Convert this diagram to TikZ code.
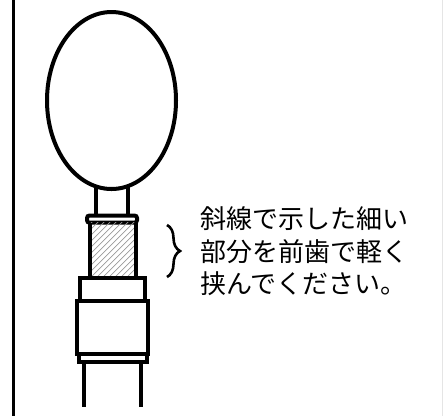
\documentclass[tikz,border=0pt]{standalone}
\usepackage{fontspec}
\usepackage{tikz}
\usetikzlibrary{positioning,decorations.pathreplacing}
\newfontfamily\jpfont{Noto Sans CJK JP}

\begin{document}
\begin{tikzpicture}[x=1pt,y=-1pt,
    part/.style={line width=4pt},
    hatchline/.style={gray!80,line width=0.7pt},
    bracemark/.style={line width=2.6pt,decorate,decoration={brace,amplitude=13pt,aspect=0.5}}]
    \useasboundingbox (0,0) rectangle (443,416);
    % frame edges
    \draw[line width=3pt] (13.7,0) -- (13.7,416);
    \draw[gray!20,line width=1pt] (442,0) -- (442,416);

    % bulb on top
    \draw[part] (111.5,100.5) ellipse [x radius=64.5,y radius=88.5];
    % neck and collar
    \draw[part] (96,187) -- (96,215.5);
    \draw[part] (128,187) -- (128,215.5);
    \draw[part,rounded corners=2.5pt] (87,215.5) rectangle (137,222.7);

    % thin part, hatched
    \begin{scope}
        \clip (89.5,222.7) rectangle (136,278);
        \foreach \i in {-70,-64,...,140}
            \draw[hatchline] (\i,282) -- ++(64,-64);
    \end{scope}
    \draw[part] (89.5,222.7) -- (89.5,278);
    \draw[part] (136,222.7) -- (136,278);

    % grip blocks
    \draw[part] (79.7,278) rectangle (144.7,301);
    \draw[part] (77,301) rectangle (147.7,354);
    \draw[part] (79.3,354) rectangle (146.7,362);
    % tube
    \draw[part] (84,362) -- (84,407);
    \draw[part] (141.3,362) -- (141.3,407);

    % brace and note
    \coordinate (btop) at (167,225);
    \coordinate (bbot) at (167,277);
    \draw[bracemark] (btop) -- (bbot);
    \node[anchor=west,align=left,font=\jpfont\fontsize{26}{32.5}\selectfont,inner sep=0pt]
        (note) at (200,251.5) {斜線で示した細い\\部分を前歯で軽く\\挟んでください。};
\end{tikzpicture}
\end{document}
